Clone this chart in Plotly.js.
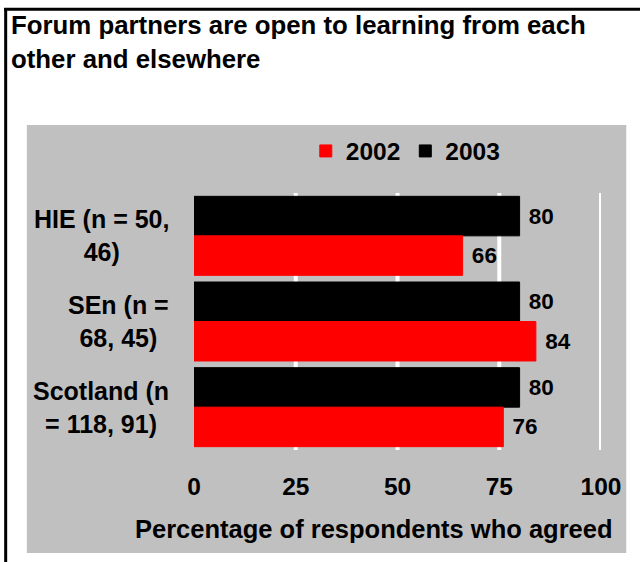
<!DOCTYPE html>
<html>
<head>
<meta charset="utf-8">
<script src="https://cdn.plot.ly/plotly-3.0.1.min.js"></script>
<style>html,body{margin:0;padding:0;background:#fff;}#chart{width:640px;height:562px;}</style>
</head>
<body>
<div id="chart"></div>
<script>
// ---- data ----
var categories = ['HIE', 'SEn', 'Scotland'];
var categoryLabels = ['HIE (n = 50,<br>46)', 'SEn (n =<br>68, 45)', 'Scotland (n<br>= 118, 91)'];
var values2002 = [66, 84, 76];
var values2003 = [80, 80, 80];
var seriesNames = ['2002', '2003'];
var xTickVals = [0, 25, 50, 75, 100];
var gridVals = [25, 50, 75, 100];
var chartTitle = 'Forum partners are open to learning from each<br>other and elsewhere';
var xAxisTitle = 'Percentage of respondents who agreed';

// ---- layout helpers (pixel -> paper) ----
var PL = 194, PR = 601.4, PT = 193, PB = 450;
function px(p) { return (p - PL) / (PR - PL); }
function py(p) { return (PB - p) / (PB - PT); }

var FONT = 'Liberation Sans, Arial, sans-serif';
function f(size, color) { return {family: FONT, size: size, color: color || '#000', weight: 'bold'}; }

var traces = [
  {
    type: 'bar', orientation: 'h', name: seriesNames[1],
    y: categories, x: values2003,
    marker: {color: '#000000', line: {color: '#000000', width: 1}},
    texttemplate: '\u00a0%{x}', textposition: 'outside', cliponaxis: false,
    textfont: f(22.5), hoverinfo: 'x+name'
  },
  {
    type: 'bar', orientation: 'h', name: seriesNames[0],
    y: categories, x: values2002,
    marker: {color: '#ff0000', line: {color: '#ff0000', width: 1}},
    texttemplate: '\u00a0%{x}', textposition: 'outside', cliponaxis: false,
    textfont: f(22.5), hoverinfo: 'x+name'
  }
];

var shapes = [
  // gray chart area
  {type: 'rect', xref: 'paper', yref: 'paper', layer: 'below',
   x0: px(26.7), x1: px(626.7), y0: py(553), y1: py(125),
   fillcolor: '#c0c0c0', line: {width: 0}},
  // outer border (left and top)
  {type: 'line', xref: 'paper', yref: 'paper', layer: 'above',
   x0: px(5.5), x1: px(5.5), y0: py(8), y1: py(570), line: {color: '#000', width: 3}},
  {type: 'line', xref: 'paper', yref: 'paper', layer: 'above',
   x0: px(4), x1: px(660), y0: py(9.3), y1: py(9.3), line: {color: '#000', width: 3}}
];
gridVals.forEach(function (v) {
  shapes.push({type: 'line', xref: 'x', yref: 'paper', layer: 'below',
    x0: v, x1: v, y0: 0, y1: 1, line: {color: '#ffffff', width: 4}});
});

var annotations = categories.map(function (c, i) {
  return {xref: 'paper', yref: 'y', x: px(171), y: c, text: categoryLabels[i],
    xanchor: 'right', yanchor: 'middle', align: 'center', showarrow: false, font: f(25)};
});
annotations.push({xref: 'paper', yref: 'paper', x: px(374), y: py(529), text: xAxisTitle,
  xanchor: 'center', yanchor: 'middle', showarrow: false, font: f(25.5)});

var layout = {
  width: 640, height: 562,
  margin: {l: PL, r: 640 - PR, t: PT, b: 562 - PB, pad: 0},
  paper_bgcolor: '#ffffff', plot_bgcolor: 'rgba(0,0,0,0)',
  font: f(24),
  title: {text: chartTitle, font: f(25.8), x: 11 / 640, xanchor: 'left', xref: 'container',
          y: 1 - 34 / 562, yanchor: 'top', yref: 'container'},
  barmode: 'group', bargap: 0.078, bargroupgap: 0,
  xaxis: {range: [0, 100], tickmode: 'array', tickvals: xTickVals, showgrid: false, zeroline: false,
          showline: false, ticks: '', tickfont: f(24.5), ticklabelstandoff: 19, fixedrange: true},
  yaxis: {type: 'category', categoryorder: 'array', categoryarray: categories, autorange: 'reversed',
          showticklabels: false, showgrid: false, zeroline: false, showline: false, ticks: '', fixedrange: true},
  showlegend: true,
  legend: {orientation: 'h', traceorder: 'reversed', x: px(406), xanchor: 'center', y: py(151), yanchor: 'middle',
           font: f(24.5), bgcolor: 'rgba(0,0,0,0)', itemclick: false, itemdoubleclick: false},
  shapes: shapes,
  annotations: annotations
};

Plotly.newPlot('chart', traces, layout, {displayModeBar: false, staticPlot: true});
</script>
</body>
</html>
